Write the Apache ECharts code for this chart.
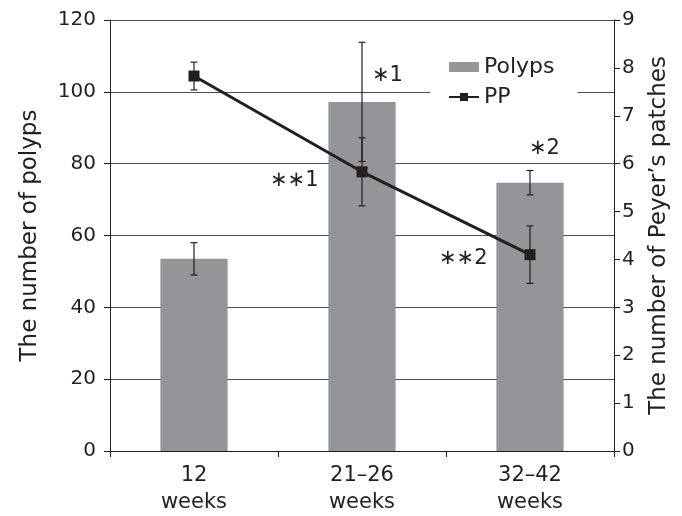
<!DOCTYPE html>
<html><head><meta charset="utf-8">
<script src="https://cdn.jsdelivr.net/npm/echarts@6/dist/echarts.min.js"></script>
<style>html,body{margin:0;padding:0;background:#fff}#c{width:682px;height:516px}</style>
</head><body><div id="c"></div>
<script>
const categories = ['12\nweeks', '21–26\nweeks', '32–42\nweeks'];
const polyps = [53.5, 97.2, 74.7];
const polypsErr = [4.5, 16.6, 3.4];
const pp = [7.83, 5.83, 4.1];
const ppErr = [0.29, 0.71, 0.6];
const leftTicks = [0, 20, 40, 60, 80, 100, 120];
const rightTicks = [0, 1, 2, 3, 4, 5, 6, 7, 8, 9];
const annotations = [
  {text: '∗1', x: 372, y: 77},
  {text: '∗∗1', x: 270, y: 182},
  {text: '∗2', x: 529, y: 150},
  {text: '∗∗2', x: 439, y: 260}
];

const FONT = 'DejaVu Sans';
const TXT = '#231f20';

function errRender(vals, errs) {
  return function (params, api) {
    const i = api.value(0);
    const v = vals[i], e = errs[i];
    const top = api.coord([i, v + e]);
    const bot = api.coord([i, v - e]);
    const x = top[0], hw = 3.5;
    const style = {stroke: '#231f20', lineWidth: 1.2};
    return {
      type: 'group',
      children: [
        {type: 'line', shape: {x1: x, y1: top[1], x2: x, y2: bot[1]}, style},
        {type: 'line', shape: {x1: x - hw, y1: top[1], x2: x + hw, y2: top[1]}, style},
        {type: 'line', shape: {x1: x - hw, y1: bot[1], x2: x + hw, y2: bot[1]}, style}
      ]
    };
  };
}

const chart = echarts.init(document.getElementById('c'));
chart.setOption({
  animation: false,
  backgroundColor: '#fff',
  textStyle: {fontFamily: FONT, color: TXT},
  grid: {left: 110, right: 68, top: 20, bottom: 60, containLabel: false},
  legend: {
    orient: 'vertical',
    left: 430, top: 48,
    padding: [8, 23, 8, 18],
    backgroundColor: '#fff',
    itemGap: 8,
    itemWidth: 30, itemHeight: 10,
    textStyle: {fontFamily: FONT, fontSize: 22, color: TXT},
    data: [
      {name: 'Polyps', icon: 'rect'},
      {name: 'PP'}
    ]
  },
  xAxis: {
    type: 'category',
    data: categories,
    axisLine: {lineStyle: {color: '#231f20', width: 1}},
    axisTick: {show: true, length: 6, lineStyle: {color: '#231f20'}},
    axisLabel: {fontFamily: FONT, fontSize: 21, color: TXT, lineHeight: 27, margin: 11}
  },
  yAxis: [
    {
      type: 'value', min: 0, max: 120, interval: 20,
      name: 'The number of polyps', nameLocation: 'middle', nameGap: 68,
      nameTextStyle: {fontFamily: FONT, fontSize: 23, color: TXT},
      axisLine: {show: true, lineStyle: {color: '#231f20'}},
      axisTick: {show: true, length: 6, lineStyle: {color: '#231f20'}},
      axisLabel: {fontFamily: FONT, fontSize: 20, color: TXT, margin: 14,
        formatter: v => leftTicks.includes(v) ? String(v) : ''},
      splitLine: {show: true, lineStyle: {color: '#4d4d4d', width: 1.2}}
    },
    {
      type: 'value', min: 0, max: 9, interval: 1, position: 'right',
      name: 'The number of Peyer’s patches', nameLocation: 'middle', nameGap: 34,
      nameTextStyle: {fontFamily: FONT, fontSize: 23, color: TXT},
      axisLine: {show: true, lineStyle: {color: '#231f20'}},
      axisTick: {show: true, length: 6, lineStyle: {color: '#231f20'}},
      axisLabel: {fontFamily: FONT, fontSize: 20, color: TXT, margin: 8,
        formatter: v => rightTicks.includes(v) ? String(v) : ''},
      splitLine: {show: false}
    }
  ],
  series: [
    {
      name: 'Polyps', type: 'bar', yAxisIndex: 0,
      data: polyps, barWidth: '40%',
      itemStyle: {color: '#939598'}, z: 2
    },
    {
      name: 'PolypsErr', type: 'custom', yAxisIndex: 0,
      data: polyps.map((v, i) => [i, v]),
      renderItem: errRender(polyps, polypsErr), z: 3
    },
    {
      name: 'PP', type: 'line', yAxisIndex: 1,
      data: pp, symbol: 'rect', symbolSize: 11,
      lineStyle: {color: '#231f20', width: 3},
      itemStyle: {color: '#231f20'}, z: 5
    },
    {
      name: 'PPErr', type: 'custom', yAxisIndex: 1,
      data: pp.map((v, i) => [i, v]),
      renderItem: errRender(pp, ppErr), z: 4
    }
  ],
  graphic: annotations.map(a => ({
    type: 'text', left: a.x, top: a.y - 12, z: 10,
    style: {text: a.text, fontFamily: FONT, fontSize: 21, fill: TXT}
  }))
});
</script>
</body></html>
